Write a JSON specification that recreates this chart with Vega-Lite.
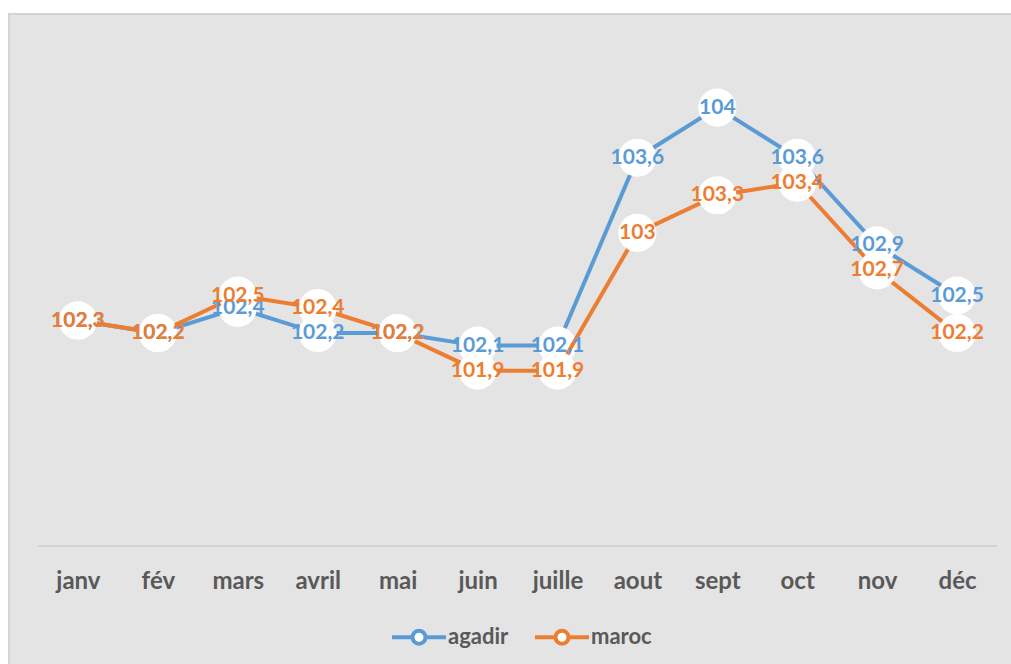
{
  "$schema": "https://vega.github.io/schema/vega-lite/v6.json",
  "autosize": {"type": "none"},
  "padding": {"left": 9, "top": 14, "right": 0, "bottom": 0},
  "width": 1017,
  "height": 655,
  "background": "white",
  "config": {
    "view": {"fill": "#e4e4e4", "stroke": "#d4d4d4", "strokeWidth": 2},
    "locale": {"number": {"decimal": ",", "thousands": " ", "grouping": [3], "currency": ["", " €"]}},
    "font": "Lato"
  },
  "data": {
    "values": [
      {"mois": "janv", "serie": "agadir", "valeur": 102.3},
      {"mois": "fév", "serie": "agadir", "valeur": 102.2},
      {"mois": "mars", "serie": "agadir", "valeur": 102.4},
      {"mois": "avril", "serie": "agadir", "valeur": 102.2},
      {"mois": "mai", "serie": "agadir", "valeur": 102.2},
      {"mois": "juin", "serie": "agadir", "valeur": 102.1},
      {"mois": "juille", "serie": "agadir", "valeur": 102.1},
      {"mois": "aout", "serie": "agadir", "valeur": 103.6},
      {"mois": "sept", "serie": "agadir", "valeur": 104},
      {"mois": "oct", "serie": "agadir", "valeur": 103.6},
      {"mois": "nov", "serie": "agadir", "valeur": 102.9},
      {"mois": "déc", "serie": "agadir", "valeur": 102.5},
      {"mois": "janv", "serie": "maroc", "valeur": 102.3},
      {"mois": "fév", "serie": "maroc", "valeur": 102.2},
      {"mois": "mars", "serie": "maroc", "valeur": 102.5},
      {"mois": "avril", "serie": "maroc", "valeur": 102.4},
      {"mois": "mai", "serie": "maroc", "valeur": 102.2},
      {"mois": "juin", "serie": "maroc", "valeur": 101.9},
      {"mois": "juille", "serie": "maroc", "valeur": 101.9},
      {"mois": "aout", "serie": "maroc", "valeur": 103},
      {"mois": "sept", "serie": "maroc", "valeur": 103.3},
      {"mois": "oct", "serie": "maroc", "valeur": 103.4},
      {"mois": "nov", "serie": "maroc", "valeur": 102.7},
      {"mois": "déc", "serie": "maroc", "valeur": 102.2}
    ]
  },
  "resolve": {"scale": {"x": "independent"}, "axis": {"x": "independent"}},
  "layer": [
    {
      "mark": {"type": "rule", "color": "#d2d2d2", "strokeWidth": 1.5},
      "encoding": {
        "x": {"datum": 0, "type": "quantitative", "scale": {"domain": [-0.363, 12.363], "nice": false, "zero": false}, "axis": null},
        "x2": {"datum": 12},
        "y": {"datum": 100.5, "type": "quantitative", "scale": {"domain": [99.518, 104.7475], "nice": false, "zero": false}, "axis": null}
      }
    },
    {
      "encoding": {
        "x": {
          "field": "mois", "type": "nominal",
          "scale": {"type": "point", "padding": 0.8625, "domain": ["janv", "fév", "mars", "avril", "mai", "juin", "juille", "aout", "sept", "oct", "nov", "déc"]},
          "axis": {
            "title": null, "orient": "bottom", "offset": -123, "domain": false, "ticks": false, "tickSize": 0,
            "labelPadding": 42, "labelBaseline": "alphabetic", "labelFont": "Lato", "labelFontWeight": "bold",
            "labelFontSize": 24, "labelColor": "#595959", "labelAngle": 0, "grid": false
          }
        },
        "y": {
          "field": "valeur", "type": "quantitative",
          "scale": {"domain": [99.518, 104.7475], "nice": false, "zero": false},
          "axis": null
        }
      },
      "layer": [
        {
          "transform": [{"filter": "datum.serie === 'agadir'"}],
          "mark": {"type": "line", "strokeWidth": 4},
          "encoding": {
            "color": {
              "field": "serie", "type": "nominal",
              "scale": {"domain": ["agadir", "maroc"], "range": ["#5b9bd5", "#ed7d31"]},
              "legend": {
                "title": null, "orient": "none", "direction": "horizontal", "legendX": 381, "legendY": 594,
                "padding": 0,
                "symbolType": "M-1,0H-0.24M0.24,0H1M-0.24,0A0.24,0.24,0,1,1,0.24,0A0.24,0.24,0,1,1,-0.24,0Z",
                "symbolSize": 2916, "symbolStrokeWidth": 4, "symbolFillColor": "white",
                "labelFont": "Lato", "labelFontSize": 22, "labelFontWeight": "bold", "labelColor": "#595959",
                "labelOffset": 0, "columnPadding": 18
              }
            }
          }
        },
        {
          "transform": [{"filter": "datum.serie === 'agadir'"}],
          "mark": {"type": "point", "shape": "circle", "filled": true, "fill": "white", "opacity": 1, "size": 1450, "strokeWidth": 0}
        },
        {
          "transform": [{"filter": "datum.serie === 'maroc'"}],
          "mark": {"type": "line", "strokeWidth": 4},
          "encoding": {"color": {"field": "serie", "type": "nominal"}}
        },
        {
          "transform": [{"filter": "datum.serie === 'maroc'"}],
          "mark": {"type": "point", "shape": "circle", "filled": true, "fill": "white", "opacity": 1, "size": 1450, "strokeWidth": 0}
        },
        {
          "transform": [{"filter": "datum.serie === 'agadir'"}],
          "mark": {"type": "text", "font": "Lato", "fontWeight": "bold", "fontSize": 21, "baseline": "middle", "align": "center", "color": "#5b9bd5"},
          "encoding": {"text": {"field": "valeur", "type": "quantitative", "format": "~g"}}
        },
        {
          "transform": [{"filter": "datum.serie === 'maroc'"}],
          "mark": {"type": "text", "font": "Lato", "fontWeight": "bold", "fontSize": 21, "baseline": "middle", "align": "center", "color": "#ed7d31"},
          "encoding": {"text": {"field": "valeur", "type": "quantitative", "format": "~g"}}
        }
      ]
    }
  ]
}
